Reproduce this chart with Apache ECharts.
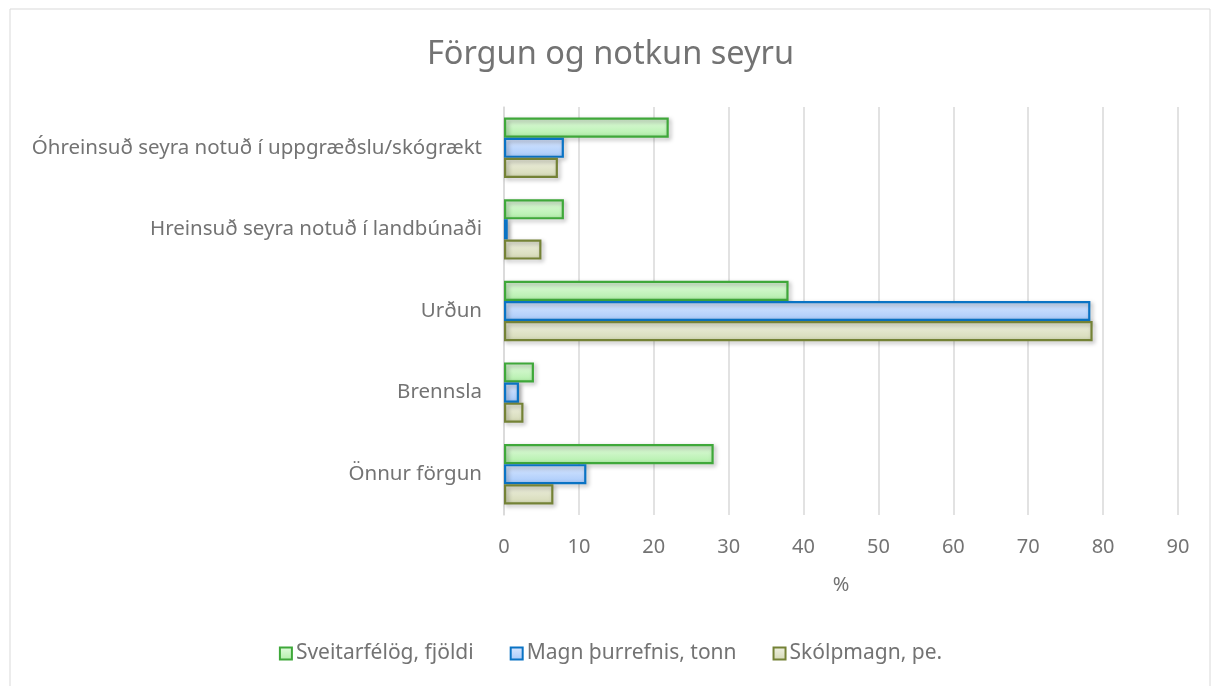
<!DOCTYPE html>
<html>
<head>
<meta charset="utf-8">
<title>Förgun og notkun seyru</title>
<script src="https://cdn.jsdelivr.net/npm/echarts@6/dist/echarts.min.js"></script>
<style>
  html, body { margin: 0; padding: 0; background: #fff; }
  #main { width: 1221px; height: 686px; }
</style>
</head>
<body>
<div id="main"></div>
<script>
// flokkar
const categories = [
  'Óhreinsuð seyra notuð í uppgræðslu/skógrækt',
  'Hreinsuð seyra notuð í landbúnaði',
  'Urðun',
  'Brennsla',
  'Önnur förgun'
];
// gildi í %
const sveitarfelog = [22, 8, 38, 4, 28];
const magnThurrefnis = [8, 0.5, 78.3, 2, 11];
const skolpmagn = [7.2, 5, 78.6, 2.6, 6.6];

const seriesNames = ['Sveitarfélög, fjöldi', 'Magn þurrefnis, tonn', 'Skólpmagn, pe.'];

const font = 'Noto Sans';
const textColor = '#737373';

function barStyle(top, bottom, border) {
  return {
    color: new echarts.graphic.LinearGradient(0, 0, 0, 1, [
      {offset: 0, color: top},
      {offset: 1, color: bottom}
    ]),
    borderColor: border,
    borderWidth: 2.2,
    shadowBlur: 4,
    shadowOffsetX: 2,
    shadowOffsetY: 2,
    shadowColor: 'rgba(0, 0, 0, 0.35)'
  };
}

const styles = [
  barStyle('#e4fbe0', '#b0efa8', '#3fa83a'),
  barStyle('#dbe8ff', '#a6c9fa', '#0a73c4'),
  barStyle('#f0f1e2', '#d4d9b5', '#748236')
];

const chart = echarts.init(document.getElementById('main'));

const option = {
  backgroundColor: '#fff',
  textStyle: {fontFamily: font},
  graphic: [{
    type: 'rect',
    shape: {x: 10, y: 9, width: 1200, height: 700},
    style: {fill: 'none', stroke: '#d9d9d9', lineWidth: 1},
    silent: true
  }],
  title: {
    text: 'Förgun og notkun seyru',
    left: 'center',
    top: 33,
    textStyle: {
      fontFamily: font,
      fontSize: 32.5,
      fontWeight: 'normal',
      color: textColor
    }
  },
  legend: {
    bottom: 17,
    left: 'center',
    itemWidth: 12,
    itemHeight: 12,
    itemGap: 36,
    icon: 'rect',
    textStyle: {fontFamily: font, fontSize: 21, color: textColor, padding: [0, 0, 0, -1]},
    data: seriesNames.map((name, i) => ({
      name: name,
      itemStyle: {
        color: styles[i].color,
        borderColor: styles[i].borderColor,
        borderWidth: 2,
        shadowBlur: 0,
        shadowOffsetX: 0,
        shadowOffsetY: 0
      }
    }))
  },
  grid: {
    left: 504,
    right: 43,
    top: 107,
    bottom: 171
  },
  xAxis: {
    type: 'value',
    min: 0,
    max: 90,
    interval: 10,
    name: '%',
    nameLocation: 'middle',
    nameGap: 60,
    nameTextStyle: {fontFamily: font, fontSize: 20, color: textColor},
    axisLine: {show: false},
    axisTick: {show: false},
    axisLabel: {fontFamily: font, fontSize: 20, color: textColor, margin: 22},
    splitLine: {lineStyle: {color: '#d9d9d9', width: 1.5}}
  },
  yAxis: {
    type: 'category',
    inverse: true,
    data: categories,
    axisLine: {lineStyle: {color: '#d9d9d9', width: 1.5}},
    axisTick: {show: false},
    axisLabel: {fontFamily: font, fontSize: 20.5, color: textColor, margin: 22}
  },
  series: [
    {name: seriesNames[0], type: 'bar', data: sveitarfelog, itemStyle: styles[0]},
    {name: seriesNames[1], type: 'bar', data: magnThurrefnis, itemStyle: styles[1]},
    {name: seriesNames[2], type: 'bar', data: skolpmagn, itemStyle: styles[2]}
  ].map(s => Object.assign(s, {barGap: '0%', barCategoryGap: '26%', silent: true}))
};

chart.setOption(option);
</script>
</body>
</html>
